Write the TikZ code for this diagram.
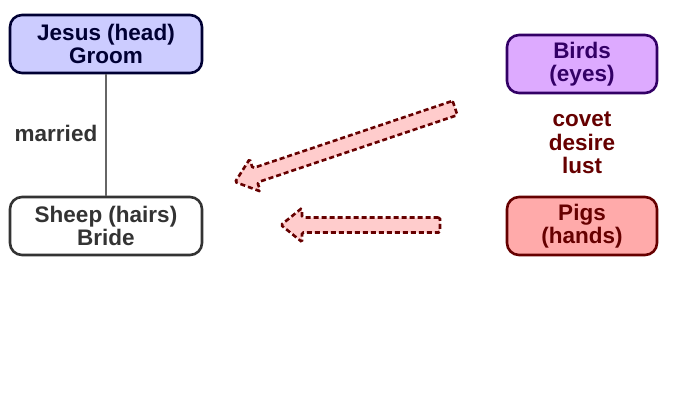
\documentclass[tikz,border=0pt]{standalone}
\usepackage{fontspec}
\setmainfont{Liberation Sans}
\begin{document}
\begin{tikzpicture}[x=1pt,y=-1pt,
  lbl/.style={font=\fontsize{22.5}{23}\selectfont\bfseries},
  box/.style={rounded corners=12pt,line width=2.6pt,minimum width=192pt,minimum height=58pt,align=center,lbl,inner sep=0pt},
  bigarrow/.style={fill=arrowfill,draw=darkred,line width=2.6pt,dash pattern=on 5pt off 3pt,rounded corners=1.5pt}]
\definecolor{jesusfill}{HTML}{CCCCFF}
\definecolor{navy}{HTML}{000033}
\definecolor{birdfill}{HTML}{DDAAFF}
\definecolor{purpledk}{HTML}{330066}
\definecolor{pigfill}{HTML}{FFAAAA}
\definecolor{darkred}{HTML}{660000}
\definecolor{arrowfill}{HTML}{FFCCCC}
\definecolor{graydk}{HTML}{333333}
\definecolor{graymid}{HTML}{666666}
\useasboundingbox (0,0) rectangle (688,412);
\node[box,fill=jesusfill,draw=navy,text=navy] (jesus) at (106,44) {Jesus (head)\\Groom};
\node[box,fill=white,draw=graydk,text=graydk] (sheep) at (106,226) {Sheep (hairs)\\Bride};
\node[box,fill=birdfill,draw=purpledk,text=purpledk,minimum width=150pt] (birds) at (582,64) {Birds\\(eyes)};
\node[box,fill=pigfill,draw=darkred,text=darkred,minimum width=150pt] (pigs) at (582,226) {Pigs\\(hands)};
\draw[line width=2.6pt,draw=graymid] (jesus) -- (sheep);
\node[text=graydk,lbl] (married) at (56,133) {married};
\node[text=darkred,align=center,font=\fontsize{22.5}{23.5}\selectfont\bfseries] (covet) at (582,143) {covet\\desire\\lust};
% arrows
\begin{scope}[shift={(455,108)},rotate=18.6]
\draw[bigarrow] (0,-7.5) -- (-211,-7.5) -- (-211,-17) -- (-232,0) -- (-211,17) -- (-211,7.5) -- (0,7.5) -- cycle;
\end{scope}
\begin{scope}[shift={(440,225)}]
\draw[bigarrow] (0,-7.5) -- (-138,-7.5) -- (-138,-17) -- (-159,0) -- (-138,17) -- (-138,7.5) -- (0,7.5) -- cycle;
\end{scope}
\end{tikzpicture}
\end{document}
